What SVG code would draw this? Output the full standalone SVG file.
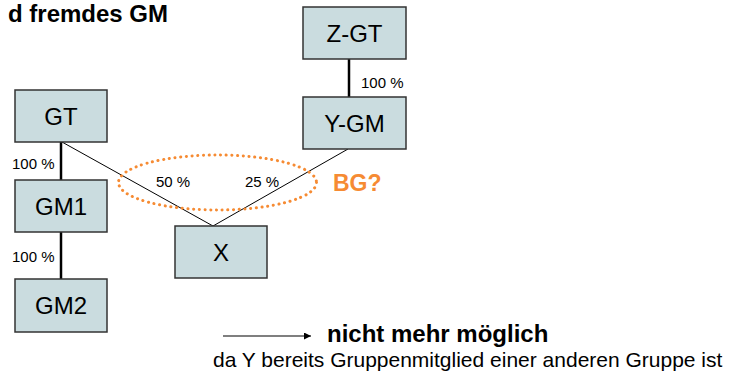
<svg xmlns="http://www.w3.org/2000/svg" width="745" height="379" viewBox="0 0 745 379">
  <defs>
    <style>
      .box { fill: #cadcdf; stroke: #333333; stroke-width: 1.5; }
      .lbl { font-family: "Liberation Sans", Arial, sans-serif; font-size: 24px; fill: #000; text-anchor: middle; }
      .pct { font-family: "Liberation Sans", Arial, sans-serif; font-size: 15px; fill: #000; }
      .own { stroke: #000; stroke-width: 2.5; fill: none; }
      .thin { stroke: #000; stroke-width: 1; fill: none; }
      .txt { font-family: "Liberation Sans", Arial, sans-serif; fill: #000; }
    </style>
    <marker id="arrowhead" viewBox="0 0 10 10" refX="10" refY="5" markerWidth="8" markerHeight="7" markerUnits="userSpaceOnUse" orient="auto">
      <path d="M0,0 L10,5 L0,10 z" fill="#000"/>
    </marker>
  </defs>

  <rect width="745" height="379" fill="#ffffff"/>

  <!-- heading, running in from the left edge -->
  <text class="txt" x="168" y="22" font-size="24" font-weight="bold" text-anchor="end">d fremdes GM</text>

  <!-- connectors -->
  <g id="connectors">
    <line class="own" x1="61" y1="142" x2="61" y2="180"/>
    <line class="own" x1="61" y1="232" x2="61" y2="279"/>
    <line class="own" x1="349" y1="59" x2="349" y2="97"/>
    <line class="thin" x1="62" y1="142" x2="213" y2="226"/>
    <line class="thin" x1="348" y1="149" x2="213" y2="226"/>
    <text class="pct" x="12" y="169">100 %</text>
    <text class="pct" x="12" y="262">100 %</text>
    <text class="pct" x="361" y="88">100 %</text>
    <text class="pct" x="156" y="187">50 %</text>
    <text class="pct" x="245" y="187">25 %</text>
  </g>

  <!-- dotted group boundary -->
  <g id="bg-ring">
    <ellipse cx="217.5" cy="182.5" rx="99" ry="27.5" fill="none" stroke="#f68b33" stroke-width="3" stroke-dasharray="0.1 5.6" stroke-linecap="round"/>
    <text class="txt" x="333" y="191" font-size="23" font-weight="bold" style="fill:#f68b33">BG?</text>
  </g>

  <g id="node-gt">
    <rect class="box" x="15" y="90" width="92" height="52"/>
    <text class="lbl" x="61" y="125">GT</text>
  </g>
  <g id="node-gm1">
    <rect class="box" x="15" y="180" width="92" height="52"/>
    <text class="lbl" x="61" y="215">GM1</text>
  </g>
  <g id="node-gm2">
    <rect class="box" x="15" y="279" width="92" height="53"/>
    <text class="lbl" x="61" y="314">GM2</text>
  </g>
  <g id="node-zgt">
    <rect class="box" x="303" y="7" width="103" height="52"/>
    <text class="lbl" x="354.5" y="42">Z-GT</text>
  </g>
  <g id="node-ygm">
    <rect class="box" x="303" y="97" width="103" height="52"/>
    <text class="lbl" x="354.5" y="132">Y-GM</text>
  </g>
  <g id="node-x">
    <rect class="box" x="175" y="226" width="92" height="52"/>
    <text class="lbl" x="221" y="261">X</text>
  </g>

  <!-- conclusion -->
  <g id="note">
    <line x1="223" y1="336" x2="311" y2="336" stroke="#000" stroke-width="1.2" marker-end="url(#arrowhead)"/>
    <text class="txt" x="327" y="342" font-size="24" font-weight="bold">nicht mehr möglich</text>
    <text class="txt" x="213" y="367" font-size="21">da Y bereits Gruppenmitglied einer anderen Gruppe ist</text>
  </g>
</svg>
